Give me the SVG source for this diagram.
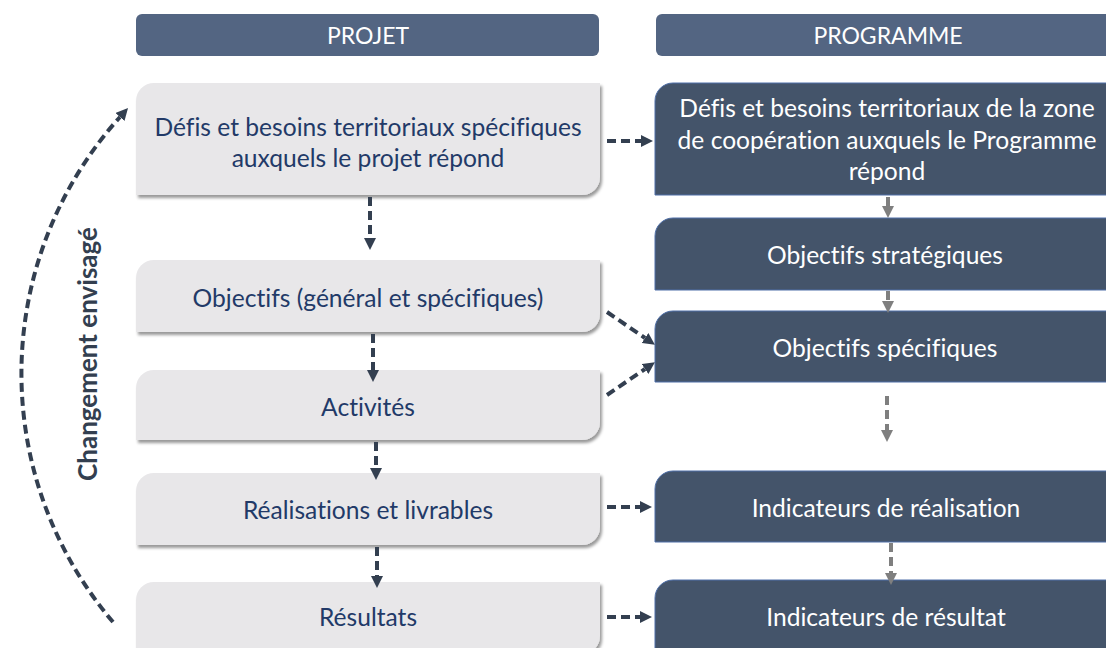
<svg xmlns="http://www.w3.org/2000/svg" width="1106" height="648" viewBox="0 0 1106 648">
<style>
.hdr{fill:#536582}
.lbox{fill:#E8E7E9}
.rbox{fill:#44546A;stroke:#4F6FA8;stroke-width:1}
.t{font-family:Lato,"Open Sans","Liberation Sans",sans-serif;font-size:24.6px;text-anchor:middle;font-variant-ligatures:none}
.tl{fill:#223A68}
.tw{fill:#FFFFFF}
.th{font-family:Lato,"Open Sans","Liberation Sans",sans-serif;font-size:23px;text-anchor:middle;fill:#FFFFFF}
.side{font-family:Lato,"Open Sans","Liberation Sans",sans-serif;font-size:26px;font-weight:bold;text-anchor:middle;fill:#333F50}
.cd{fill:none;stroke:#333F50;stroke-width:4;stroke-dasharray:9 5}
.cg{fill:none;stroke:#7F7F7F;stroke-width:4;stroke-dasharray:9 5}
</style>
<defs>
<filter id="sh" x="-5%" y="-10%" width="112%" height="130%">
<feDropShadow dx="2" dy="3" stdDeviation="1.8" flood-color="#000" flood-opacity="0.4"/>
</filter>
<marker id="ad" viewBox="0 0 10 10" refX="0" refY="5" markerUnits="userSpaceOnUse" markerWidth="12" markerHeight="12" orient="auto">
<path d="M0,0 L10,5 L0,10 z" fill="#333F50"/>
</marker>
<marker id="ag" viewBox="0 0 10 10" refX="0" refY="5" markerUnits="userSpaceOnUse" markerWidth="12" markerHeight="12" orient="auto">
<path d="M0,0 L10,5 L0,10 z" fill="#7F7F7F"/>
</marker>
</defs>

<g id="hdr-projet">
<rect class="hdr" x="136" y="14" width="463" height="42" rx="6"/>
<text class="th" x="368" y="44">PROJET</text>
</g>
<g id="hdr-programme">
<rect class="hdr" x="656" y="14" width="470" height="42" rx="6"/>
<text class="th" x="888" y="44">PROGRAMME</text>
</g>

<g id="p-defis">
<path class="lbox" filter="url(#sh)" d="M154,83 H600 V177 A18,18 0 0 1 582,195 H136 V101 A18,18 0 0 1 154,83 Z"/>
<text class="t tl" x="368" y="136">Défis et besoins territoriaux spécifiques</text>
<text class="t tl" x="368" y="167">auxquels le projet répond</text>
</g>
<g id="p-objectifs">
<path class="lbox" filter="url(#sh)" d="M154,260 H600 V314 A18,18 0 0 1 582,332 H136 V278 A18,18 0 0 1 154,260 Z"/>
<text class="t tl" x="368" y="307">Objectifs (général et spécifiques)</text>
</g>
<g id="p-activites">
<path class="lbox" filter="url(#sh)" d="M154,370 H600 V422 A18,18 0 0 1 582,440 H136 V388 A18,18 0 0 1 154,370 Z"/>
<text class="t tl" x="368" y="416">Activités</text>
</g>
<g id="p-realisations">
<path class="lbox" filter="url(#sh)" d="M154,473 H600 V527 A18,18 0 0 1 582,545 H136 V491 A18,18 0 0 1 154,473 Z"/>
<text class="t tl" x="368" y="519">Réalisations et livrables</text>
</g>
<g id="p-resultats">
<path class="lbox" filter="url(#sh)" d="M154,582 H600 V636 A18,18 0 0 1 582,654 H136 V600 A18,18 0 0 1 154,582 Z"/>
<text class="t tl" x="368" y="626">Résultats</text>
</g>

<g id="g-defis">
<path class="rbox" d="M673,83 H1120 V195 H655 V101 A18,18 0 0 1 673,83 Z"/>
<text class="t tw" x="887" y="117">Défis et besoins territoriaux de la zone</text>
<text class="t tw" x="887" y="149">de coopération auxquels le Programme</text>
<text class="t tw" x="887" y="180">répond</text>
</g>
<g id="g-strategiques">
<path class="rbox" d="M673,218 H1120 V290 H655 V236 A18,18 0 0 1 673,218 Z"/>
<text class="t tw" x="885" y="264">Objectifs stratégiques</text>
</g>
<g id="g-specifiques">
<path class="rbox" d="M673,311 H1120 V382 H655 V329 A18,18 0 0 1 673,311 Z"/>
<text class="t tw" x="885" y="357">Objectifs spécifiques</text>
</g>
<g id="g-ind-realisation">
<path class="rbox" d="M673,471 H1120 V542 H655 V489 A18,18 0 0 1 673,471 Z"/>
<text class="t tw" x="886" y="517">Indicateurs de réalisation</text>
</g>
<g id="g-ind-resultat">
<path class="rbox" d="M673,580 H1120 V660 H655 V598 A18,18 0 0 1 673,580 Z"/>
<text class="t tw" x="886" y="626">Indicateurs de résultat</text>
</g>

<g id="side-label">
<text class="side" transform="translate(97,354) rotate(-90)">Changement envisagé</text>
</g>

<g id="connectors">
<path class="cd" d="M370,197 V238" marker-end="url(#ad)"/>
<path class="cd" d="M373,334 V370" marker-end="url(#ad)"/>
<path class="cd" d="M376,442 V468" marker-end="url(#ad)"/>
<path class="cd" d="M377,547 V576" marker-end="url(#ad)"/>
<path class="cd" d="M607,141 H641" marker-end="url(#ad)"/>
<path class="cd" d="M607,507 H640" marker-end="url(#ad)"/>
<path class="cd" d="M607,617 H640" marker-end="url(#ad)"/>
<path class="cd" d="M607,312 L645,338" marker-end="url(#ad)"/>
<path class="cd" d="M607,395 L645,369" marker-end="url(#ad)"/>
<path class="cg" d="M888,197 V206" marker-end="url(#ag)"/>
<path class="cg" d="M888,291 V301" marker-end="url(#ag)"/>
<path class="cg" d="M887,396 V430" marker-end="url(#ag)"/>
<path class="cg" d="M891,543 V573" marker-end="url(#ag)"/>
<path class="cd" d="M113,622 A383,383 0 0 1 120,117" marker-end="url(#ad)"/>
</g>
</svg>
